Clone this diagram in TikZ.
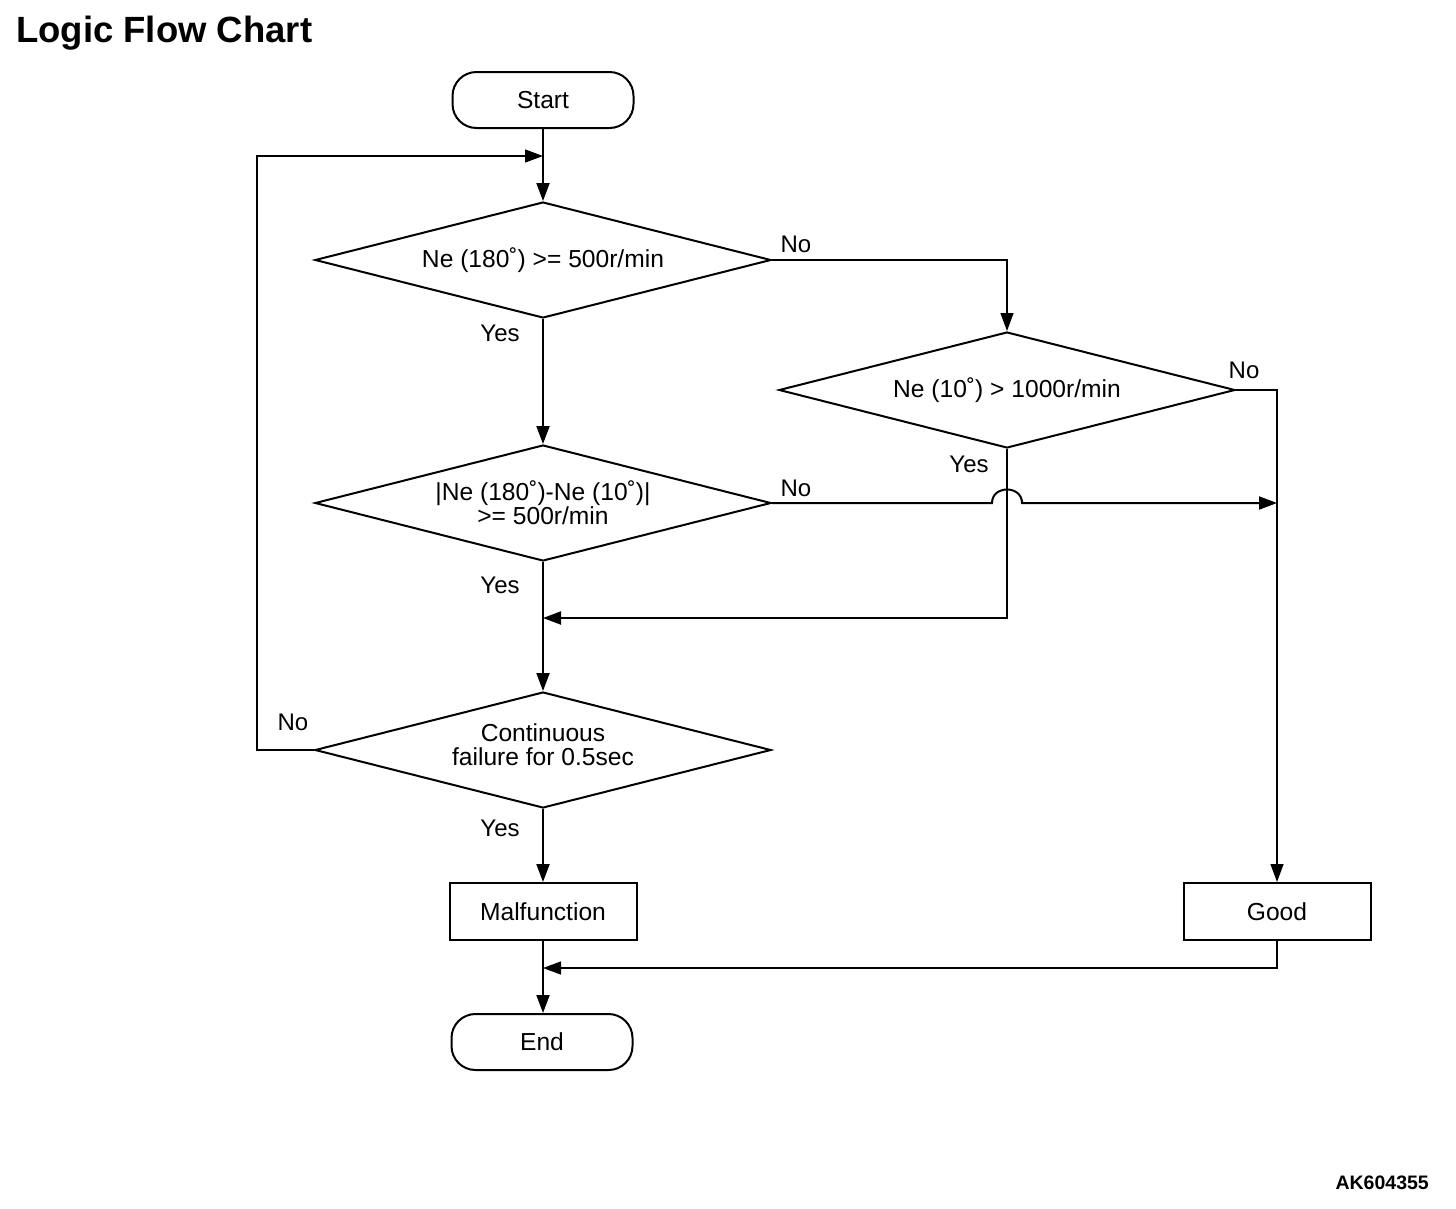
\documentclass[tikz,border=0pt]{standalone}
\usepackage{fontspec}
\setmainfont{Liberation Sans}
\usetikzlibrary{shapes.geometric,arrows.meta}
\begin{document}
\begin{tikzpicture}[x=1pt,y=-1pt,
 every node/.style={font=\fontsize{24.6}{24}\selectfont},
 term/.style={draw,line width=2pt,rounded corners=24pt,minimum width=181pt,minimum height=56pt,inner sep=0pt},
 dec/.style={draw,diamond,line width=2pt,aspect=3.93,minimum width=456pt,minimum height=116pt,inner sep=0pt,align=center},
 proc/.style={draw,line width=2pt,minimum width=187pt,minimum height=57pt,inner sep=0pt},
 flow/.style={line width=2pt,-{Triangle[length=18pt,width=13pt]}},
 thinflow/.style={line width=1.3pt,-{Triangle[length=18pt,width=13pt]}},
 lbl/.style={font=\fontsize{24}{24}\selectfont,inner sep=0pt}
]
\useasboundingbox (0,0) rectangle (1456,1208);
\node[anchor=west,inner sep=0pt,font=\fontsize{36.5}{40}\selectfont\bfseries] (title) at (16,33) {Logic Flow Chart};
\node[anchor=east,inner sep=0pt,font=\fontsize{19.5}{22}\selectfont\bfseries] (code) at (1429,1183) {AK604355};

\node[term] (start) at (543,100) {Start};
\node[dec] (d1) at (543,260) {Ne (180˚) >= 500r/min};
\node[dec] (d2) at (1007,390) {Ne (10˚) > 1000r/min};
\node[dec] (d3) at (543,503) {|Ne (180˚)-Ne (10˚)|\\>= 500r/min};
\node[dec] (d4) at (543,750) {Continuous\\failure for 0.5sec\rule[-10pt]{0pt}{10pt}};
\node[proc] (mal) at (543,911.5) {Malfunction};
\node[proc] (good) at (1277,911.5) {Good};
\node[term] (end) at (542,1042) {End};

\coordinate (m1) at (543,156);
\coordinate (m2) at (543,618);
\coordinate (m3) at (543,968);
\coordinate (j1) at (1277,503);
\coordinate (b1) at (992,503);
\coordinate (b2) at (1022,503);

\draw[flow] (start) -- (d1);
\draw[thinflow] (d4.west) -- (257,750) |- (m1);
\draw[thinflow] (d1.east) -| (d2.north);
\draw[thinflow] (d2.east) -| (good.north);
\draw[flow] (d1) -- (d3);
\draw[flow] (d3.east) -- (b1) .. controls (992,485) and (1022,485) .. (b2) -- (j1);
\draw[flow] (d2.south) |- (m2);
\draw[flow] (d3) -- (d4);
\draw[flow] (d4) -- (mal);
\draw[flow] (mal.south) -- (mal.south |- end.north);
\draw[thinflow] (good.south) |- (m3);

\node[lbl] (l1) at (796,244) {No};
\node[lbl] (l2) at (500,333) {Yes};
\node[lbl] (l3) at (1244,370) {No};
\node[lbl] (l4) at (969,464) {Yes};
\node[lbl] (l5) at (796,488) {No};
\node[lbl] (l6) at (500,585) {Yes};
\node[lbl] (l7) at (293,722) {No};
\node[lbl] (l8) at (500,828) {Yes};
\end{tikzpicture}
\end{document}
